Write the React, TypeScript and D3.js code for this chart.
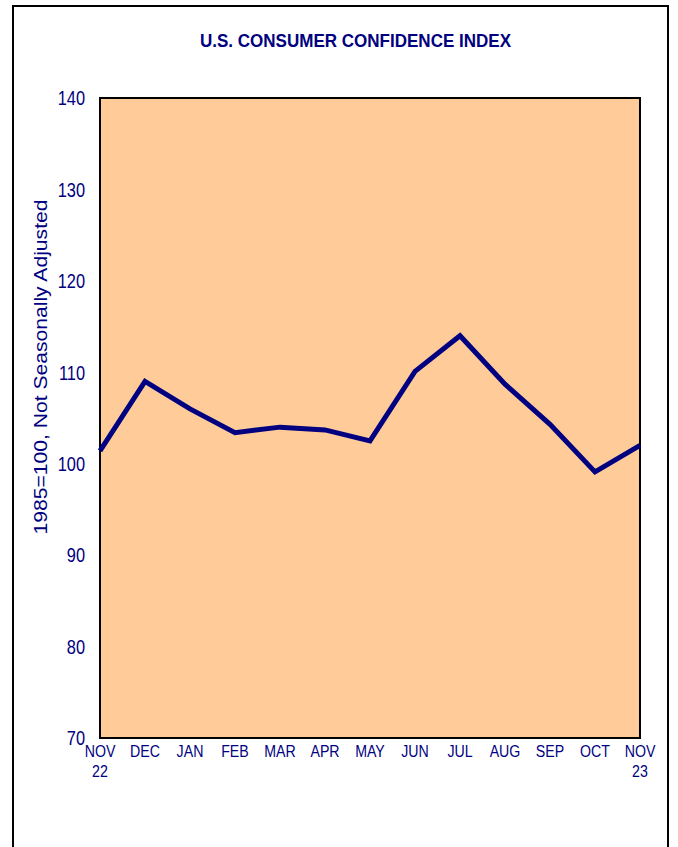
import React, { useEffect, useRef } from 'react';
import * as d3 from 'd3';

// month labels, second line holds the year where shown
const months = ['NOV', 'DEC', 'JAN', 'FEB', 'MAR', 'APR', 'MAY', 'JUN', 'JUL', 'AUG', 'SEP', 'OCT', 'NOV'];
const years = ['22', '', '', '', '', '', '', '', '', '', '', '', '23'];
const confidence = [101.4, 109.0, 106.0, 103.4, 104.0, 103.7, 102.5, 110.1, 114.0, 108.7, 104.3, 99.1, 102.0];
const yTicks = [70, 80, 90, 100, 110, 120, 130, 140];

const W = 678;
const H = 847;
const NAVY = '#000080';
const FONT = '"Liberation Sans", Arial, sans-serif';

const App = () => {
    const svgRef = useRef<SVGSVGElement>(null);

    useEffect(() => {
        const svg = d3.select(svgRef.current);
        svg.selectAll('*').remove();

        const plot = { left: 100, right: 640, top: 98, bottom: 738 };

        const x = d3.scalePoint<number>()
            .domain(d3.range(months.length))
            .range([plot.left, plot.right]);

        const y = d3.scaleLinear()
            .domain([70, 140])
            .range([plot.bottom, plot.top]);

        // outer frame (runs off the bottom of the page)
        svg.append('rect')
            .attr('x', 13)
            .attr('y', 6)
            .attr('width', 655)
            .attr('height', 880)
            .style('fill', 'white')
            .style('stroke', 'black')
            .style('stroke-width', 2);

        // title (the original font is condensed)
        svg.append('text')
            .attr('x', 355.5)
            .attr('y', 47)
            .attr('text-anchor', 'middle')
            .attr('textLength', 311)
            .attr('lengthAdjust', 'spacingAndGlyphs')
            .style('font-family', FONT)
            .style('font-weight', 'bold')
            .style('font-size', '19px')
            .style('fill', NAVY)
            .text('U.S. CONSUMER CONFIDENCE INDEX');

        // plot area
        svg.append('rect')
            .attr('x', plot.left)
            .attr('y', plot.top)
            .attr('width', plot.right - plot.left)
            .attr('height', plot.bottom - plot.top)
            .style('fill', '#FFCC99')
            .style('stroke', 'black')
            .style('stroke-width', 2);

        // y tick labels
        svg.append('g')
            .selectAll('text')
            .data(yTicks)
            .enter().append('text')
            .attr('transform', (d) => `translate(85, ${y(d)}) scale(0.78, 1)`)
            .attr('dy', '0.35em')
            .attr('text-anchor', 'end')
            .style('font-family', FONT)
            .style('font-size', '21px')
            .style('fill', NAVY)
            .text((d) => d);

        // y axis title
        svg.append('text')
            .attr('transform', `translate(47, 367) rotate(-90)`)
            .attr('text-anchor', 'middle')
            .attr('textLength', 335)
            .attr('lengthAdjust', 'spacingAndGlyphs')
            .style('font-family', FONT)
            .style('font-size', '18px')
            .style('fill', NAVY)
            .text('1985=100, Not Seasonally Adjusted');

        // x labels
        const xl = svg.append('g')
            .selectAll('g')
            .data(months)
            .enter().append('g')
            .attr('transform', (d, i) => `translate(${x(i)}, 0) scale(0.86, 1)`);

        xl.append('text')
            .attr('y', 757)
            .attr('text-anchor', 'middle')
            .style('font-family', FONT)
            .style('font-size', '16.5px')
            .style('fill', NAVY)
            .text((d) => d);

        xl.append('text')
            .attr('y', 777)
            .attr('text-anchor', 'middle')
            .style('font-family', FONT)
            .style('font-size', '16.5px')
            .style('fill', NAVY)
            .text((d, i) => years[i]);

        // the index line
        const line = d3.line<number>()
            .x((d, i) => x(i) as number)
            .y((d) => y(d));

        svg.append('path')
            .datum(confidence)
            .attr('d', line)
            .style('fill', 'none')
            .style('stroke', NAVY)
            .style('stroke-width', 5)
            .style('stroke-linejoin', 'miter');
    }, []);

    return (
        <svg ref={svgRef} width={W} height={H} style={{ position: 'absolute', left: 0, top: 0 }}></svg>
    );
};

export default App;
